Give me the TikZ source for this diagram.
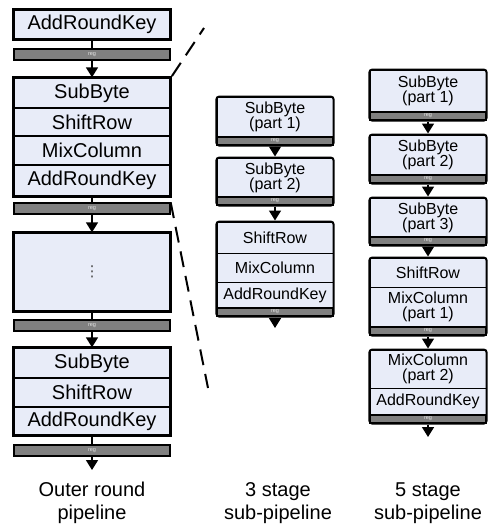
\documentclass[tikz,border=0pt]{standalone}
\usepackage{fontspec}
\setmainfont{Liberation Sans}
\newfontfamily\symfont{DejaVu Sans}
\usetikzlibrary{arrows.meta,fit,backgrounds}
\definecolor{stagefill}{RGB}{232,236,248}
\definecolor{reggrey}{RGB}{128,128,128}

\begin{document}
\begin{tikzpicture}[x=1pt, y=-1pt,
    big/.style={rectangle, draw=black, line width=1.4pt, fill=stagefill,
                minimum width=156pt, inner sep=0pt, font=\fontsize{20}{22}\selectfont},
    small/.style={rectangle, draw=black, line width=1pt, fill=stagefill,
                minimum width=116pt, inner sep=0pt, align=center, font=\fontsize{16}{15}\selectfont},
    reg/.style={rectangle, draw=black, line width=1.3pt, fill=reggrey, inner sep=0pt,
                font=\fontsize{5.5}{5.5}\selectfont, text=white!80!gray},
    blockbox/.style={rectangle, draw=black, line width=2.4pt, inner sep=0pt},
    stagebox/.style={rectangle, draw=black, line width=2pt, rounded corners=3pt, inner sep=0pt},
    arr/.style={-{Triangle[width=12pt,length=10pt]}, line width=1.6pt},
    cut/.style={line width=2pt, dash pattern=on 16pt off 9pt},
    caption/.style={align=center, font=\fontsize{20}{23}\selectfont}
]
    \useasboundingbox (0,0) rectangle (488,527);

    % outer round pipeline
    \node[big, minimum height=29pt] (ark0) at (92,24.5)  {AddRoundKey};
    \node[big, minimum height=30pt] (sb1)  at (92,93)    {SubByte};
    \node[big, minimum height=28pt] (sr1)  at (92,122)   {ShiftRow};
    \node[big, minimum height=29pt] (mc1)  at (92,150.5) {MixColumn};
    \node[big, minimum height=31pt] (ark1) at (92,180.5) {AddRoundKey};
    \node[blockbox, fit=(sb1)(ark1)] (blk1) {};
    \node[big, minimum height=78pt, font=\symfont\fontsize{15}{15}\selectfont, text=black!70] (more) at (92,272) {⋮};
    \node[blockbox, fit=(more)] (blk2) {};
    \node[big, minimum height=30pt] (sb2)  at (92,363)   {SubByte};
    \node[big, minimum height=29pt] (sr2)  at (92,392.5) {ShiftRow};
    \node[big, minimum height=28pt] (ark2) at (92,421)   {AddRoundKey};
    \node[blockbox, fit=(sb2)(ark2)] (blk3) {};
    \node[blockbox, fit=(ark0)] (blk0) {};
    \coordinate (out0) at (92,470);

    \begin{scope}[on background layer]
        \draw[arr] (ark0) -- (sb1);
        \draw[arr] (ark1) -- (more);
        \draw[arr] (more) -- (sb2);
        \draw[arr] (ark2) -- (out0);
    \end{scope}

    \node[reg, minimum width=156pt, minimum height=11pt] (reg0) at (92,54.5)  {reg};
    \node[reg, minimum width=156pt, minimum height=11pt] (reg1) at (92,208.5) {reg};
    \node[reg, minimum width=156pt, minimum height=11pt] (reg2) at (92,325.5) {reg};
    \node[reg, minimum width=156pt, minimum height=11pt] (reg3) at (92,450.5) {reg};

    % 3 stage sub-pipeline
    \node[small, minimum height=40pt] (sbA1)  at (275,117)   {SubByte\\(part 1)};
    \node[reg, minimum width=116pt, minimum height=8pt] (regA1) at (275,141) {reg};
    \node[stagebox, fit=(sbA1)(regA1)] (stA1) {};
    \node[small, minimum height=39pt] (sbA2)  at (275,177.5) {SubByte\\(part 2)};
    \node[reg, minimum width=116pt, minimum height=8pt] (regA2) at (275,201) {reg};
    \node[stagebox, fit=(sbA2)(regA2)] (stA2) {};
    \node[small, minimum height=31pt] (srA)   at (275,237.5) {ShiftRow};
    \node[small, minimum height=29pt] (mcA)   at (275,267.5) {MixColumn};
    \node[small, minimum height=26pt] (arkA)  at (275,295)   {AddRoundKey};
    \node[reg, minimum width=116pt, minimum height=8pt] (regA3) at (275,312) {reg};
    \node[stagebox, fit=(srA)(regA3)] (stA3) {};
    \coordinate (outA) at (275,328);

    \draw[arr] (stA1) -- (stA2);
    \draw[arr] (stA2) -- (stA3);
    \draw[arr] (stA3) -- (outA);

    % 5 stage sub-pipeline
    \node[small, minimum height=42pt] (sbB1)  at (428,91)    {SubByte\\(part 1)};
    \node[reg, minimum width=116pt, minimum height=8pt] (regB1) at (428,116) {reg};
    \node[stagebox, fit=(sbB1)(regB1)] (stB1) {};
    \node[small, minimum height=40pt] (sbB2)  at (428,155)   {SubByte\\(part 2)};
    \node[reg, minimum width=116pt, minimum height=8pt] (regB2) at (428,179) {reg};
    \node[stagebox, fit=(sbB2)(regB2)] (stB2) {};
    \node[small, minimum height=39pt] (sbB3)  at (428,217.5) {SubByte\\(part 3)};
    \node[reg, minimum width=116pt, minimum height=8pt] (regB3) at (428,241) {reg};
    \node[stagebox, fit=(sbB3)(regB3)] (stB3) {};
    \node[small, minimum height=29pt] (srB)   at (428,272.5) {ShiftRow};
    \node[small, minimum height=40pt] (mcB1)  at (428,307)   {MixColumn\\(part 1)};
    \node[reg, minimum width=116pt, minimum height=8pt] (regB4) at (428,331) {reg};
    \node[stagebox, fit=(srB)(regB4)] (stB4) {};
    \node[small, minimum height=38pt] (mcB2)  at (428,369)   {MixColumn\\(part 2)};
    \node[small, minimum height=27pt] (arkB)  at (428,401.5) {AddRoundKey};
    \node[reg, minimum width=116pt, minimum height=8pt] (regB5) at (428,419) {reg};
    \node[stagebox, fit=(mcB2)(regB5)] (stB5) {};
    \coordinate (outB) at (428,437);

    \draw[arr] (stB1) -- (stB2);
    \draw[arr] (stB2) -- (stB3);
    \draw[arr] (stB3) -- (stB4);
    \draw[arr] (stB4) -- (stB5);
    \draw[arr] (stB5) -- (outB);

    % expansion lines
    \coordinate (cutA) at (204,28);
    \coordinate (cutB) at (208,388);
    \draw[cut] (blk1.north east) -- (cutA);
    \draw[cut] (reg1.north east) -- (cutB);

    % captions
    \node[caption] (capL) at (92,503)  {Outer round\\pipeline};
    \node[caption] (capM) at (278,503) {3 stage\\sub-pipeline};
    \node[caption] (capR) at (428,503) {5 stage\\sub-pipeline};
\end{tikzpicture}
\end{document}
